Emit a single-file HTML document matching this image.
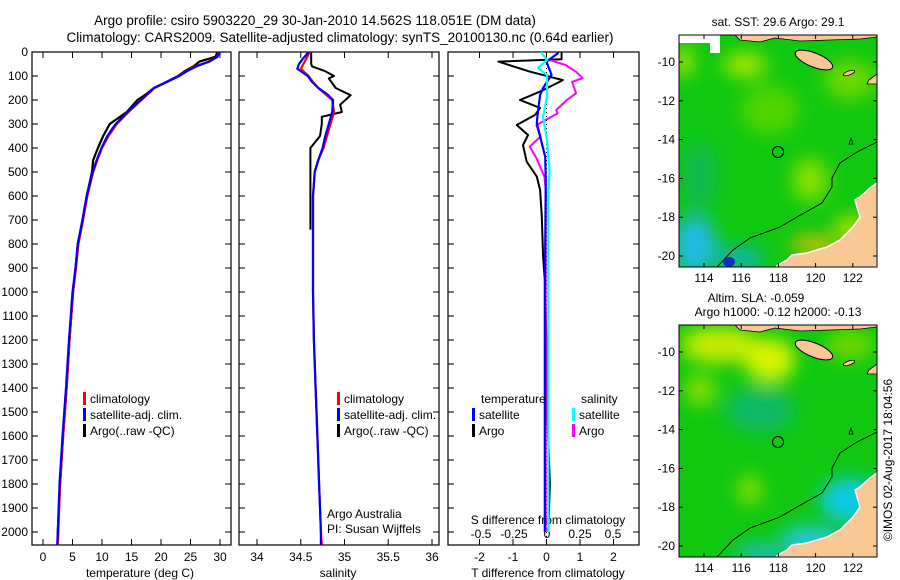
<!DOCTYPE html>
<html><head><meta charset="utf-8"><style>
html,body{margin:0;padding:0;background:#fff;}
svg{display:block;font-family:"Liberation Sans",sans-serif;}
text{fill:#000;}
</style></head><body>
<svg id="fig" width="900" height="580" viewBox="0 0 900 580">
<defs>
<filter id="bl" x="-50%" y="-50%" width="200%" height="200%"><feGaussianBlur stdDeviation="9"/></filter>
<clipPath id="clipTop"><rect x="679" y="35" width="198" height="232"/></clipPath>
<clipPath id="clipBot"><rect x="679" y="325" width="198" height="232"/></clipPath>
</defs>
<text x="315" y="25" font-size="13.5" text-anchor="middle">Argo profile: csiro 5903220_29 30-Jan-2010 14.562S 118.051E (DM data)</text>
<text x="340" y="42" font-size="13.5" text-anchor="middle">Climatology: CARS2009. Satellite-adjusted climatology: synTS_20100130.nc (0.64d earlier)</text>

<!-- Top map -->
<g>
<text x="778" y="26" font-size="12" text-anchor="middle">sat. SST: 29.6 Argo: 29.1</text>
<g clip-path="url(#clipTop)">
<rect x="679" y="35" width="198" height="232" fill="#10c810"/>
<g filter="url(#bl)">
<ellipse cx="745" cy="65" rx="22" ry="12" fill="#a8e800"/>
<ellipse cx="684" cy="62" rx="8" ry="14" fill="#d0f000"/>
<ellipse cx="810" cy="180" rx="18" ry="22" fill="#88e000"/>
<ellipse cx="850" cy="80" rx="25" ry="20" fill="#70d800"/>
<ellipse cx="770" cy="110" rx="30" ry="25" fill="#50d400"/>
<ellipse cx="700" cy="175" rx="16" ry="35" fill="#10b850"/>
<ellipse cx="695" cy="245" rx="22" ry="30" fill="#20b8e0"/>
<ellipse cx="740" cy="258" rx="25" ry="10" fill="#10b0c0"/>
<ellipse cx="815" cy="245" rx="25" ry="8" fill="#f0c000"/>
<ellipse cx="850" cy="228" rx="15" ry="12" fill="#c0e000"/>
</g>
<ellipse cx="729" cy="262" rx="6" ry="5" fill="#1030c0"/>
<path d="M679,35 L679,43 L710,43 L710,53 L720,53 L720,35 Z" fill="#fff"/>
<path d="M735,35 L740,40 L760,42 L775,38 L800,41 L830,40 L860,39 L877,37 L877,35 Z" fill="#f9c896" stroke="#000" stroke-width="0.8"/>
<ellipse cx="814" cy="60" rx="20" ry="7" transform="rotate(22 814 60)" fill="#f9c896" stroke="#000" stroke-width="1"/>
<ellipse cx="849" cy="73" rx="6" ry="2" transform="rotate(-20 849 73)" fill="#f9c896" stroke="#000" stroke-width="0.8"/>
<path d="M869,80 L877,74 L877,84 L867,84 Z" fill="#f9c896" stroke="#000" stroke-width="0.8"/>
<path d="M877,183 L870,188 L860,197 L855,200 L860,217 L853,227 L840,240 L827,247 L807,253 L792,255 L787,260 L778,265 L776,267 L877,267 Z" fill="#f9c896" stroke="#fff" stroke-width="1.5"/>
<path d="M717,267 L733,250 L750,238 L780,227 L797,217 L822,203 L832,187 L832,178 L840,163 L857,152 L877,142" fill="none" stroke="#000" stroke-width="0.9"/>
<path d="M849,144 L851,138 L853,144 Z" fill="none" stroke="#000" stroke-width="0.8"/>
<circle cx="778" cy="152" r="5.5" fill="none" stroke="#000" stroke-width="1"/>
</g>
<rect x="679" y="35" width="198" height="232" fill="none" stroke="#000" stroke-width="1"/>
</g>

<!-- Bottom map -->
<g>
<text x="756" y="302" font-size="12" text-anchor="middle">Altim. SLA: -0.059</text>
<text x="778" y="316" font-size="12" text-anchor="middle">Argo h1000: -0.12 h2000: -0.13</text>
<g clip-path="url(#clipBot)">
<rect x="679" y="325" width="198" height="232" fill="#10c810"/>
<g filter="url(#bl)">
<ellipse cx="720" cy="345" rx="40" ry="18" fill="#c8ec00"/>
<ellipse cx="770" cy="360" rx="25" ry="22" fill="#d8f400"/>
<ellipse cx="700" cy="390" rx="15" ry="15" fill="#90e000"/>
<ellipse cx="850" cy="345" rx="25" ry="15" fill="#70d800"/>
<ellipse cx="760" cy="410" rx="35" ry="22" fill="#10b868"/>
<ellipse cx="750" cy="490" rx="12" ry="15" fill="#88e000"/>
<ellipse cx="850" cy="500" rx="30" ry="22" fill="#10c8e8"/>
<ellipse cx="810" cy="540" rx="30" ry="14" fill="#20c8e0"/>
<ellipse cx="760" cy="553" rx="25" ry="8" fill="#20b8e0"/>
</g>
<path d="M735,325 L740,330 L760,332 L775,328 L800,331 L830,330 L860,329 L877,327 L877,325 Z" fill="#f9c896" stroke="#000" stroke-width="0.8"/>
<ellipse cx="814" cy="350" rx="20" ry="7" transform="rotate(22 814 350)" fill="#f9c896" stroke="#000" stroke-width="1"/>
<ellipse cx="849" cy="363" rx="6" ry="2" transform="rotate(-20 849 363)" fill="#f9c896" stroke="#000" stroke-width="0.8"/>
<path d="M869,370 L877,364 L877,374 L867,374 Z" fill="#f9c896" stroke="#000" stroke-width="0.8"/>
<path d="M877,473 L870,478 L860,487 L855,490 L860,507 L853,517 L840,530 L827,537 L807,543 L792,545 L787,550 L778,555 L776,557 L877,557 Z" fill="#f9c896" stroke="#fff" stroke-width="1.5"/>
<path d="M717,557 L733,540 L750,528 L780,517 L797,507 L822,493 L832,477 L832,468 L840,453 L857,442 L877,432" fill="none" stroke="#000" stroke-width="0.9"/>
<path d="M849,434 L851,428 L853,434 Z" fill="none" stroke="#000" stroke-width="0.8"/>
<circle cx="778" cy="442" r="5.5" fill="none" stroke="#000" stroke-width="1"/>
</g>
<rect x="679" y="325" width="198" height="232" fill="none" stroke="#000" stroke-width="1"/>
</g>
<text transform="translate(892,460) rotate(-90)" font-size="12" text-anchor="middle">©IMOS 02-Aug-2017 18:04:56</text>
<g id="plots"></g>
</svg>
<script>
// ---- data ----
const tDepth = [0,20,40,60,80,100,125,150,175,200,250,300,350,400,450,500,600,700,800,900,1000,1200,1400,1600,1800,2000,2055];
const tClim  = [29.8,29.5,28.0,25.8,24.3,23.0,21.0,18.9,17.8,16.7,14.5,12.5,11.1,10.0,9.2,8.5,7.5,6.8,6.0,5.6,5.1,4.5,4.0,3.4,2.9,2.6,2.5];
const tSat   = [29.9,29.6,28.2,26.0,24.4,23.1,21.0,18.8,17.7,16.6,14.3,12.3,10.9,9.9,9.1,8.4,7.4,6.7,5.9,5.5,5.0,4.4,3.9,3.3,2.8,2.5,2.4];
const tArgo  = [29.6,29.2,26.5,25.5,24.0,22.9,20.9,18.8,17.5,16.0,14.2,11.3,10.2,9.3,8.5,8.3,7.4,6.7,5.9,5.5,5.1,4.5,4.0,3.4,2.9,2.5,2.5];
const sDepth = [0,30,50,70,100,125,150,175,200,250,300,350,400,450,500,550,600,800,1000,1200,1400,1600,1800,2000,2055];
const sClim  = [34.60,34.56,34.53,34.50,34.59,34.64,34.70,34.78,34.86,34.88,34.84,34.80,34.76,34.70,34.66,34.65,34.64,34.64,34.64,34.65,34.67,34.69,34.71,34.73,34.74];
const sSat   = [34.59,34.52,34.48,34.46,34.58,34.63,34.70,34.80,34.87,34.86,34.82,34.78,34.75,34.70,34.66,34.65,34.64,34.64,34.64,34.65,34.67,34.69,34.71,34.73,34.73];
const aDepth = [0,50,60,80,100,110,150,180,220,250,270,300,350,400,500,740];
const sArgo  = [34.62,34.62,34.63,34.78,34.88,34.82,34.90,35.07,34.95,34.97,34.74,34.74,34.72,34.61,34.61,34.61];
const dtDepth = [0,30,40,82,117,165,200,233,262,304,346,388,457,519,575,686,853,950,1200,1500,1800,2000];
const dtArgo  = [0.45,0.45,-1.44,-0.49,0.49,-0.19,-0.79,-0.19,-0.34,-0.89,-0.55,-0.70,-0.59,-0.29,-0.19,-0.14,-0.10,-0.05,0.0,0.02,0.10,0.05];
const dtsDepth = [0,5,40,95,150,179,242,296,437,533,1000,2000];
const dtSat    = [0.34,0.34,0.0,0.15,-0.10,-0.19,-0.25,-0.29,-0.04,-0.02,-0.05,-0.05];
const dsDepth  = [0,5,33,67,95,186,270,367,492,600,1000,2000];
const dsSat    = [-0.04,-0.04,0.0,-0.07,0.0,0.0,-0.03,0.0,0.02,0.01,0.01,0.01];
const dsaDepth = [0,5,33,54,82,109,124,172,200,242,256,304,353,394,442,519,575,1000,2000];
const dsArgo   = [0.08,0.08,0.02,0.14,0.22,0.27,0.19,0.22,0.15,0.07,0.08,-0.08,-0.05,-0.13,-0.08,-0.02,-0.01,-0.01,-0.01];
const depthTicks = [0,100,200,300,400,500,600,700,800,900,1000,1100,1200,1300,1400,1500,1600,1700,1800,1900,2000];
const tempTicks = [0,5,10,15,20,25,30];
const salTicks = [34,34.5,35,35.5,36];
const salTickLabels = ['34','34.5','35','35.5','36'];
const tdTicks = [-2,-1,0,1,2];
const sdTicks = [-0.5,-0.25,0,0.25,0.5];
const sdTickLabels = ['-0.5','-0.25','0','0.25','0.5'];

// ---- axes ----
const Y0=52, Y1=545, YTOP=52;
const yD = d => YTOP + d*0.24;
const xT = t => 43 + t*5.9;
const xS = s => 257 + (s-34)*87.5;
const xDT = t => 546.5 + t*33.5;
const xDS = s => 547 + s*132;
const NS='http://www.w3.org/2000/svg';
const root=document.getElementById('plots');
function mk(tag,attrs,parent){const e=document.createElementNS(NS,tag);for(const k in attrs)e.setAttribute(k,attrs[k]);(parent||root).appendChild(e);return e;}
function txt(x,y,s,size,anchor,parent){const t=mk('text',{x:x,y:y,'font-size':size,'text-anchor':anchor||'middle'},parent);t.textContent=s;return t;}
function line(depths,vals,xf,color,w,name,parent){
  const pts=depths.map((d,i)=>xf(vals[i]).toFixed(1)+','+yD(d).toFixed(1)).join(' ');
  const p=mk('polyline',{points:pts,fill:'none',stroke:color,'stroke-width':w,'stroke-linejoin':'round'},parent);
  
  
  return p;
}
function panel(x0,x1,name){
  const g=mk('g',{});
  
  
  mk('rect',{x:x0,y:Y0,width:x1-x0,height:Y1-Y0,fill:'#fff',stroke:'#000','stroke-width':1.2},g);
  depthTicks.forEach(d=>{
    mk('line',{x1:x0,x2:x0+6,y1:yD(d),y2:yD(d),stroke:'#000'},g);
    mk('line',{x1:x1-6,x2:x1,y1:yD(d),y2:yD(d),stroke:'#000'},g);
  });
  return g;
}
// Panel 1
const g1=panel(32,231,'temperature-panel');
tempTicks.forEach(t=>{mk('line',{x1:xT(t),x2:xT(t),y1:Y0,y2:Y0+6,stroke:'#000'},g1);mk('line',{x1:xT(t),x2:xT(t),y1:Y1-6,y2:Y1,stroke:'#000'},g1);txt(xT(t),561,String(t),12,'middle',g1);});
depthTicks.forEach(d=>{const t=txt(28,yD(d)+4,String(d),12,'end',g1);});
txt(140,577,'temperature (deg C)',12,'middle',g1);
line(tDepth,tArgo,xT,'#000',2.2,'temp-argo-line',g1);
line(tDepth,tClim,xT,'#f00',2.2,'temp-climatology-line',g1);
line(tDepth,tSat,xT,'#00f',2.2,'temp-satellite-line',g1);
// Panel 2
const g2=panel(239,439,'salinity-panel');
salTicks.forEach((s,i)=>{mk('line',{x1:xS(s),x2:xS(s),y1:Y0,y2:Y0+6,stroke:'#000'},g2);mk('line',{x1:xS(s),x2:xS(s),y1:Y1-6,y2:Y1,stroke:'#000'},g2);txt(xS(s),561,salTickLabels[i],12,'middle',g2);});
txt(338,577,'salinity',12,'middle',g2);
line(aDepth,sArgo,xS,'#000',2,'sal-argo-line',g2);
line(sDepth,sClim,xS,'#f00',2.2,'sal-climatology-line',g2);
line(sDepth,sSat,xS,'#00f',2.2,'sal-satellite-line',g2);
txt(327,518,'Argo Australia',12,'start',g2);
txt(327,533,'PI: Susan Wijffels',12,'start',g2);
// Panel 3
const g3=panel(448,639,'difference-panel');
tdTicks.forEach(t=>{mk('line',{x1:xDT(t),x2:xDT(t),y1:Y0,y2:Y0+6,stroke:'#000'},g3);mk('line',{x1:xDT(t),x2:xDT(t),y1:Y1-6,y2:Y1,stroke:'#000'},g3);txt(xDT(t),561,String(t),12,'middle',g3);});
sdTicks.forEach((s,i)=>txt(xDS(s),538,sdTickLabels[i],12,'middle',g3));
txt(548,524,'S difference from climatology',12,'middle',g3);
txt(548,577,'T difference from climatology',12,'middle',g3);
mk('line',{x1:xDT(0),x2:xDT(0),y1:Y0,y2:Y1,stroke:'#000','stroke-dasharray':'1,3'},g3);
line(dtDepth,dtArgo,xDT,'#000',2,'tdiff-argo-line',g3);
line(dsaDepth,dsArgo,xDS,'#f0f',2,'sdiff-argo-line',g3);
line(dtsDepth,dtSat,xDT,'#00f',2.2,'tdiff-satellite-line',g3);
line(dsDepth,dsSat,xDS,'#0ff',2.2,'sdiff-satellite-line',g3);
// Legends
function legend(x,y,color,label,parent,name){
  const r=mk('rect',{x:x,y:y-6,width:3,height:13,fill:color},parent);
  
  
  txt(x+7,y+5,label,12,'start',parent);
}
legend(83,398,'#f00','climatology',g1,'legend-climatology');
legend(83,414,'#00f','satellite-adj. clim.',g1,'legend-satellite-adj');
legend(83,430,'#000','Argo(..raw -QC)',g1,'legend-argo');
legend(337,398,'#f00','climatology',g2,'legend-climatology');
legend(337,414,'#00f','satellite-adj. clim.',g2,'legend-satellite-adj');
legend(337,430,'#000','Argo(..raw -QC)',g2,'legend-argo');
txt(481,403,'temperature',12,'start',g3);
txt(581,403,'salinity',12,'start',g3);
legend(472,414,'#00f','satellite',g3,'legend-t-satellite');
legend(472,430,'#000','Argo',g3,'legend-t-argo');
legend(572,414,'#0ff','satellite',g3,'legend-s-satellite');
legend(572,430,'#f0f','Argo',g3,'legend-s-argo');
// Map axes
function mapAxes(y0,y1,name){
  const g=mk('g',{});
  
  
  [114,116,118,120,122].forEach(l=>{const x=704+(l-114)*18.6;mk('line',{x1:x,x2:x,y1:y0,y2:y0+4,stroke:'#000'},g);mk('line',{x1:x,x2:x,y1:y1-4,y2:y1,stroke:'#000'},g);txt(x,y1+15,String(l),12,'middle',g);});
  [-10,-12,-14,-16,-18,-20].forEach(l=>{const y=y0+27+(-10-l)*19.4;mk('line',{x1:679,x2:683,y1:y,y2:y,stroke:'#000'},g);mk('line',{x1:873,x2:877,y1:y,y2:y,stroke:'#000'},g);txt(675,y+4,String(l),12,'end',g);});
}
mapAxes(35,267,'sst-map-axes');
mapAxes(325,557,'sla-map-axes');
</script>
</body></html>
